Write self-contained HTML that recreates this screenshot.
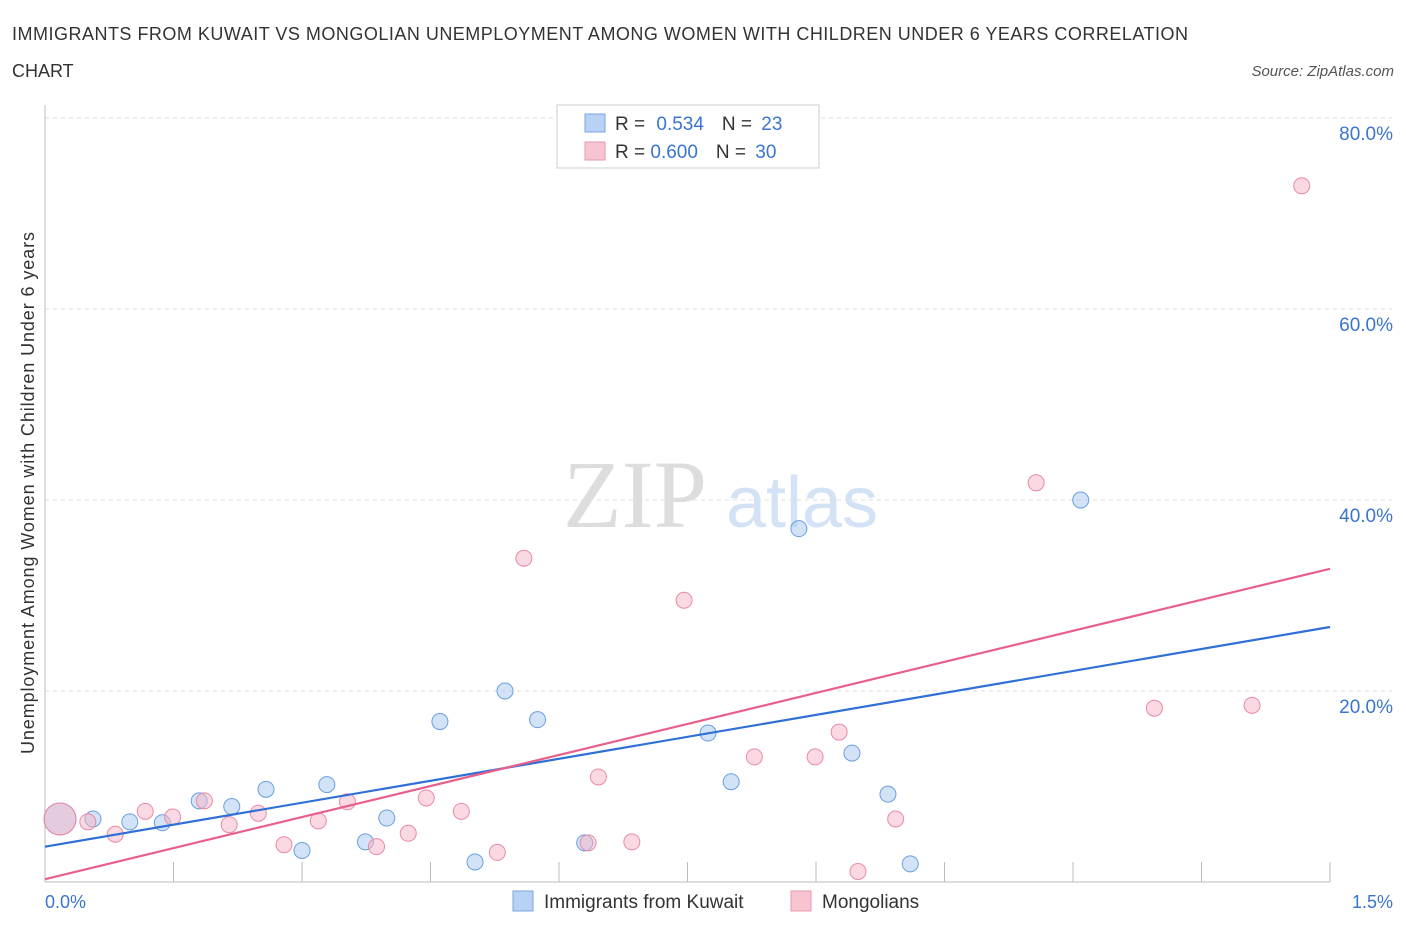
<!DOCTYPE html>
<html><head><meta charset="utf-8"><style>
body{margin:0;background:#fff;font-family:"Liberation Sans",sans-serif}
</style></head><body>
<svg id="c" width="1406" height="930" font-family="Liberation Sans, sans-serif">
<text x="12" y="40" font-size="18" fill="#333" textLength="1176">IMMIGRANTS FROM KUWAIT VS MONGOLIAN UNEMPLOYMENT AMONG WOMEN WITH CHILDREN UNDER 6 YEARS CORRELATION</text>
<text x="12" y="77" font-size="18" fill="#333">CHART</text>
<text x="1394" y="76" font-size="15" fill="#555" font-style="italic" text-anchor="end">Source: ZipAtlas.com</text>
<text x="635" y="527" font-size="96" fill="#ddd" style="font-family:'Liberation Serif',serif" text-anchor="middle">ZIP</text>
<text x="802" y="527" font-size="72" fill="#d3e2f5" text-anchor="middle">atlas</text>
<g id="grid"></g>
<g id="marks"></g>
<text transform="translate(34,493) rotate(-90)" font-size="18" fill="#333" text-anchor="middle" textLength="522">Unemployment Among Women with Children Under 6 years</text>
<text x="45" y="908" font-size="18" fill="#3a74d0">0.0%</text>
<text x="1393" y="908" font-size="18" fill="#3a74d0" text-anchor="end">1.5%</text>
<g>
<rect x="557" y="105" width="262" height="63" fill="#fff" stroke="#ccc"/>
<rect x="585" y="114" width="20" height="18" fill="#b8d2f5" stroke="#7aa6e0"/>
<rect x="585" y="142" width="20" height="18" fill="#f8c4d2" stroke="#e898b0"/>
<text x="615" y="130" font-size="19" fill="#333">R = <tspan fill="#3a74d0" dx="6">0.534</tspan><tspan dx="18">N = </tspan><tspan fill="#3a74d0" dx="4">23</tspan></text>
<text x="615" y="158" font-size="19" fill="#333">R = <tspan fill="#3a74d0">0.600</tspan><tspan dx="18">N = </tspan><tspan fill="#3a74d0" dx="4">30</tspan></text>
</g>
<g>
<rect x="513" y="891" width="20" height="20" fill="#b8d2f5" stroke="#7aa6e0"/>
<text x="544" y="908" font-size="19" fill="#333">Immigrants from Kuwait</text>
<rect x="791" y="891" width="20" height="20" fill="#f8c4d2" stroke="#e898b0"/>
<text x="822" y="908" font-size="19" fill="#333">Mongolians</text>
</g>
</svg>
<script>
const yTicks=[20,40,60,80];
const yTickLabels=["20.0%","40.0%","60.0%","80.0%"];
const xTicks=[0.15,0.3,0.45,0.6,0.75,0.9,1.05,1.2,1.35,1.5];
const kuwaitX=[0.0175,0.056,0.099,0.137,0.180,0.218,0.258,0.300,0.329,0.374,0.399,0.461,0.502,0.537,0.575,0.630,0.774,0.801,0.880,0.942,0.984,1.010,1.209];
const kuwaitY=[6.6,6.6,6.3,6.2,8.5,7.9,9.7,3.3,10.2,4.2,6.7,16.8,2.1,20.0,17.0,4.1,15.6,10.5,37.0,13.5,9.2,1.9,40.0];
const mongX=[0.0175,0.050,0.082,0.117,0.149,0.186,0.215,0.249,0.279,0.319,0.353,0.387,0.424,0.445,0.486,0.528,0.559,0.634,0.646,0.685,0.746,0.828,0.899,0.927,0.949,0.993,1.157,1.295,1.409,1.467];
const mongY=[6.6,6.3,5.0,7.4,6.8,8.5,6.0,7.2,3.9,6.4,8.4,3.7,5.1,8.8,7.4,3.1,33.9,4.1,11.0,4.2,29.5,13.1,13.1,15.7,1.1,6.6,41.8,18.2,18.5,72.9];
const kuwaitTrend=[3.7,26.7];
const mongTrend=[0.3,32.8];
const NS="http://www.w3.org/2000/svg";
const X=v=>45+v/1.5*1285, Y=v=>882-v*9.55;
function mk(t,a,p){const e=document.createElementNS(NS,t);for(const k in a)e.setAttribute(k,a[k]);p.appendChild(e);return e;}
const g=document.getElementById('grid'),m=document.getElementById('marks');
yTicks.forEach((t,i)=>{
 const l=mk('line',{x1:45,x2:1392,y1:Y(t),y2:Y(t),stroke:'#ddd','stroke-dasharray':'4,4'},g);
 
 
 const tx=mk('text',{x:1393,y:Y(t)+22,'font-size':19,fill:'#3a74d0','text-anchor':'end'},g);
 tx.textContent=yTickLabels[i];
 
 
});
mk('line',{x1:45,x2:45,y1:105,y2:882,stroke:'#bbb'},g);
const ax=mk('line',{x1:45,x2:1330,y1:882,y2:882,stroke:'#bbb'},g);


xTicks.forEach(t=>{
 const l=mk('line',{x1:X(t),x2:X(t),y1:862,y2:882,stroke:'#bbb'},g);
 
 
});
function pts(xs,ys,fill,stroke,name){
 xs.forEach((x,i)=>{
  const c=mk('circle',{cx:X(x),cy:Y(ys[i]),r:i==0?16:8,fill:fill,'fill-opacity':0.5,stroke:stroke,'stroke-width':1},m);
  
  
 });
}
pts(kuwaitX,kuwaitY,'#a8c8f0','#6a9ee0','kuwait-point');
pts(mongX,mongY,'#f6b4c6','#e88aa6','mongolian-point');
const t1=mk('line',{x1:X(0),y1:Y(kuwaitTrend[0]),x2:X(1.5),y2:Y(kuwaitTrend[1]),stroke:'#2f6fd6','stroke-width':2.2},m);


const t2=mk('line',{x1:X(0),y1:Y(mongTrend[0]),x2:X(1.5),y2:Y(mongTrend[1]),stroke:'#e8608a','stroke-width':2.2},m);


</script>
</body></html>
